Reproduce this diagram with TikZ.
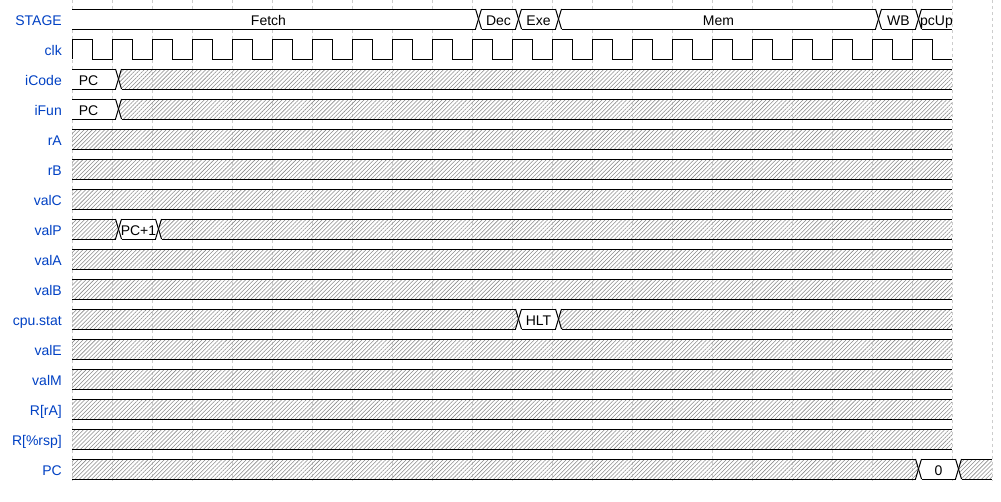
\documentclass[tikz,border=0pt]{standalone}
\usepackage{fontspec}
\setmainfont{Liberation Sans}
\usetikzlibrary{patterns.meta}
\definecolor{lblblue}{RGB}{0,65,196}
\definecolor{gridc}{RGB}{205,205,205}
\tikzset{
  wire/.style={line width=1pt, black, line join=miter},
  gridline/.style={gridc, line width=0.8pt, dash pattern=on 3pt off 3pt},
  hatch/.style={pattern={Lines[angle=45,distance=2.9pt,line width=0.55pt]}, pattern color=black!45},
  blank/.style={fill=white},
  lbl/.style={anchor=base east, text=lblblue, inner sep=0pt, font=\fontsize{14}{16}\selectfont},
  val/.style={anchor=base, text=black, inner sep=0pt, font=\fontsize{14}{16}\selectfont},
}
% #1 top y, #2 start x, #3 end x, #4 left transition half-width, #5 right transition half-width, #6 fill style
\newcommand\wseg[6]{%
  \fill[#6] ({#2+#4},#1) -- ({#3-#5},#1) -- (#3,{#1+10}) -- ({#3-#5},{#1+20}) -- ({#2+#4},{#1+20}) -- (#2,{#1+10}) -- cycle;
  \draw[wire] ({#2+#4},#1) -- ({#3-#5},#1) ({#2+#4},{#1+20}) -- ({#3-#5},{#1+20});
  \ifnum#4>0 \draw[wire] ({#2+#4},#1) -- (#2,{#1+10}) -- ({#2+#4},{#1+20});\fi
  \ifnum#5>0 \draw[wire] ({#3-#5},#1) -- (#3,{#1+10}) -- ({#3-#5},{#1+20});\fi
}
\begin{document}
\begin{tikzpicture}[x=1pt,y=-1pt]
\fill[white] (0,0) rectangle (1001,501);
\useasboundingbox (0,0) rectangle (1001,501);
% grid
\foreach \k in {0,...,23} \draw[gridline] ({72.5+40*\k},0) -- ({72.5+40*\k},481);
% labels
\node[lbl] (l0) at (62,25) {STAGE};
\node[lbl] (l1) at (62,55) {clk};
\node[lbl] (l2) at (62,85) {iCode};
\node[lbl] (l3) at (62,115) {iFun};
\node[lbl] (l4) at (62,145) {rA};
\node[lbl] (l5) at (62,175) {rB};
\node[lbl] (l6) at (62,205) {valC};
\node[lbl] (l7) at (62,235) {valP};
\node[lbl] (l8) at (62,265) {valA};
\node[lbl] (l9) at (62,295) {valB};
\node[lbl] (l10) at (62,325) {cpu.stat};
\node[lbl] (l11) at (62,355) {valE};
\node[lbl] (l12) at (62,385) {valM};
\node[lbl] (l13) at (62,415) {R[rA]};
\node[lbl] (l14) at (62,445) {R[\%rsp]};
\node[lbl] (l15) at (62,475) {PC};
% STAGE
\wseg{9}{72}{478.5}{0}{3}{blank}
\wseg{9}{478.5}{518.5}{3}{3}{blank}
\wseg{9}{518.5}{558.5}{3}{3}{blank}
\wseg{9}{558.5}{878.5}{3}{3}{blank}
\wseg{9}{878.5}{918.5}{3}{3}{blank}
\wseg{9}{918.5}{952}{3}{0}{blank}
\node[val] (s1) at (268.5,25) {Fetch};
\node[val] (s2) at (498.5,25) {Dec};
\node[val] (s3) at (538.5,25) {Exe};
\node[val] (s4) at (718.5,25) {Mem};
\node[val] (s5) at (898.5,25) {WB};
\node[val] (s6) at (936.5,25) {pcUp};
% clk
\draw[wire] (72,59) \foreach \k in {0,...,21}{ -- ({72+40*\k},39) -- ({92+40*\k},39) -- ({92+40*\k},59) -- ({112+40*\k},59)};
% iCode / iFun
\wseg{69}{72}{118.5}{0}{3}{blank}
\wseg{69}{118.5}{952}{3}{0}{hatch}
\node[val] (v1) at (88.5,85) {PC};
\wseg{99}{72}{118.5}{0}{3}{blank}
\wseg{99}{118.5}{952}{3}{0}{hatch}
\node[val] (v2) at (88.5,115) {PC};
% plain hatched rows
\foreach \t in {129,159,189,249,279,339,369,399,429}{\wseg{\t}{72}{952}{0}{0}{hatch}}
% valP
\wseg{219}{72}{118.5}{0}{3}{hatch}
\wseg{219}{118.5}{158.5}{3}{3}{blank}
\wseg{219}{158.5}{952}{3}{0}{hatch}
\node[val] (v3) at (138.5,235) {PC+1};
% cpu.stat
\wseg{309}{72}{518.5}{0}{3}{hatch}
\wseg{309}{518.5}{558.5}{3}{3}{blank}
\wseg{309}{558.5}{952}{3}{0}{hatch}
\node[val] (v4) at (538.5,325) {HLT};
% PC
\wseg{459}{72}{918.5}{0}{3}{hatch}
\wseg{459}{918.5}{958.5}{3}{3}{blank}
\wseg{459}{958.5}{992}{3}{0}{hatch}
\node[val] (v5) at (938.5,475) {0};
\end{tikzpicture}
\end{document}
